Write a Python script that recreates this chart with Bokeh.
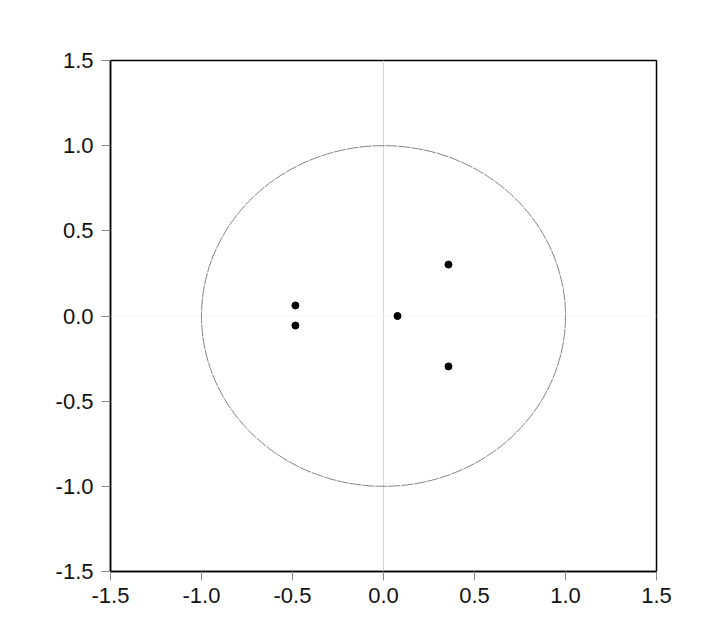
from bokeh.plotting import figure
from bokeh.models import Span, FixedTicker, Range1d, PrintfTickFormatter
from bokeh.embed import file_html
from bokeh.resources import INLINE

# inverse roots (real, imaginary)
root_re = [0.077, 0.357, 0.357, -0.484, -0.484]
root_im = [0.0, 0.302, -0.296, 0.062, -0.056]
ticks = [-1.5, -1.0, -0.5, 0.0, 0.5, 1.0, 1.5]

p = figure(width=698, height=611, output_backend="svg", toolbar_location=None,
           x_range=Range1d(-1.5, 1.5), y_range=Range1d(-1.5, 1.5),
           min_border_left=110, min_border_right=42, min_border_top=60, min_border_bottom=40)
p.background_fill_color = "white"
p.border_fill_color = "white"
p.outline_line_color = "black"
p.outline_line_width = 1.5
p.xgrid.visible = False
p.ygrid.visible = False

for ax in (p.xaxis, p.yaxis):
    ax.ticker = FixedTicker(ticks=ticks)
    ax.formatter = PrintfTickFormatter(format="%.1f")
    ax.major_label_text_font = "Liberation Sans"
    ax.major_label_text_font_size = "22px"
    ax.major_label_text_color = "#111111"
    ax.major_tick_in = 0
    ax.major_tick_out = 9
    ax.major_tick_line_color = "#888888"
    ax.minor_tick_line_color = None
    ax.axis_line_color = "black"
    ax.axis_line_width = 1.5
p.yaxis.major_label_standoff = 8
p.xaxis.major_label_standoff = 7

p.add_layout(Span(location=0, dimension="height", line_color="#d8d8d8", line_width=1, level="underlay"))
p.add_layout(Span(location=0, dimension="width", line_color="#f0f0f0", line_width=1,
                  line_dash="2 2", level="underlay"))

p.ellipse(x=[0], y=[0], width=[2], height=[2], fill_color=None,
          line_color="#666666", line_width=0.8, line_dash="12 1")

p.scatter(root_re, root_im, size=7, color="black")

open("out.html", "w").write(file_html(p, INLINE))
